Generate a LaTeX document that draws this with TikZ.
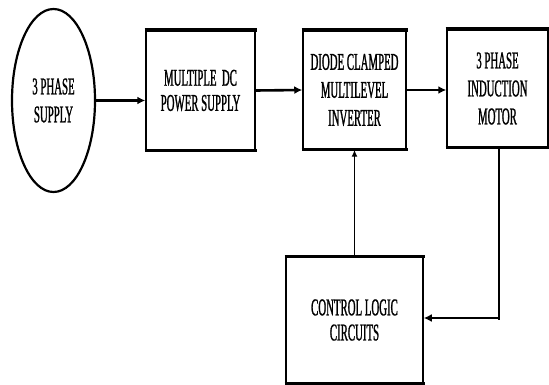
\documentclass[tikz,border=0pt]{standalone}
\usepackage{fontspec}
\newfontfamily\cond[FakeStretch=0.45,FakeBold=1]{Liberation Serif}
\usetikzlibrary{arrows.meta,shapes.geometric}
\begin{document}
\begin{tikzpicture}[x=1pt,y=-1pt,
  blk/.style={draw,line width=1.5pt,rectangle,inner sep=0pt,align=center,
    font=\cond\fontsize{24}{28}\selectfont},
  edge/.style={line width=3.5pt},
  conn/.style={line width=2.6pt,-{Latex[length=8pt,width=8pt]}},
  thinconn/.style={line width=1.6pt}]
\useasboundingbox (0,0) rectangle (549,385);
\node[blk,ellipse,minimum width=83pt,minimum height=183pt,line width=2.2pt] (e) at (53.5,100.5) {3 PHASE\\SUPPLY};
\node[blk,minimum width=109pt,minimum height=119pt] (b1) at (200.5,90.5) {\raisebox{-8pt}{\shortstack{MULTIPLE\ \ DC\\[6pt]POWER SUPPLY}}};
\node[blk,minimum width=103pt,minimum height=118pt] (b2) at (354.5,90) {DIODE CLAMPED\\MULTILEVEL\\INVERTER};
\node[blk,minimum width=101pt,minimum height=117pt] (b3) at (497.5,88.5) {3 PHASE\\INDUCTION\\MOTOR};
\node[blk,minimum width=137pt,minimum height=126pt] (c) at (354.5,320) {\raisebox{-8pt}{\shortstack{CONTROL LOGIC\\[6pt]CIRCUITS}}};
\foreach \n in {b1,b2,b3,c}{
  \draw[edge] ([xshift=-0.75pt]\n.north west) -- ([xshift=0.75pt]\n.north east);
  \draw[edge,line width=2.8pt] ([xshift=-0.75pt]\n.south west) -- ([xshift=0.75pt]\n.south east);
}
\draw[conn] (e.east) -- (b1.west |- e.east);
\draw[conn] (b1.east) -- (b2.west);
\draw[conn] (b2.east) -- (b3.west |- b2.east);
\draw[thinconn,-{Latex[length=7pt,width=6pt]}] (c.north) -- (b2.south);
\draw[thinconn] ([xshift=1.5pt]b3.south) -- ([xshift=1.5pt]b3.south |- c.east);
\draw[conn] ([xshift=1.5pt,yshift=2pt]b3.south |- c.east) -- ([yshift=2pt]c.east);
\end{tikzpicture}
\end{document}
